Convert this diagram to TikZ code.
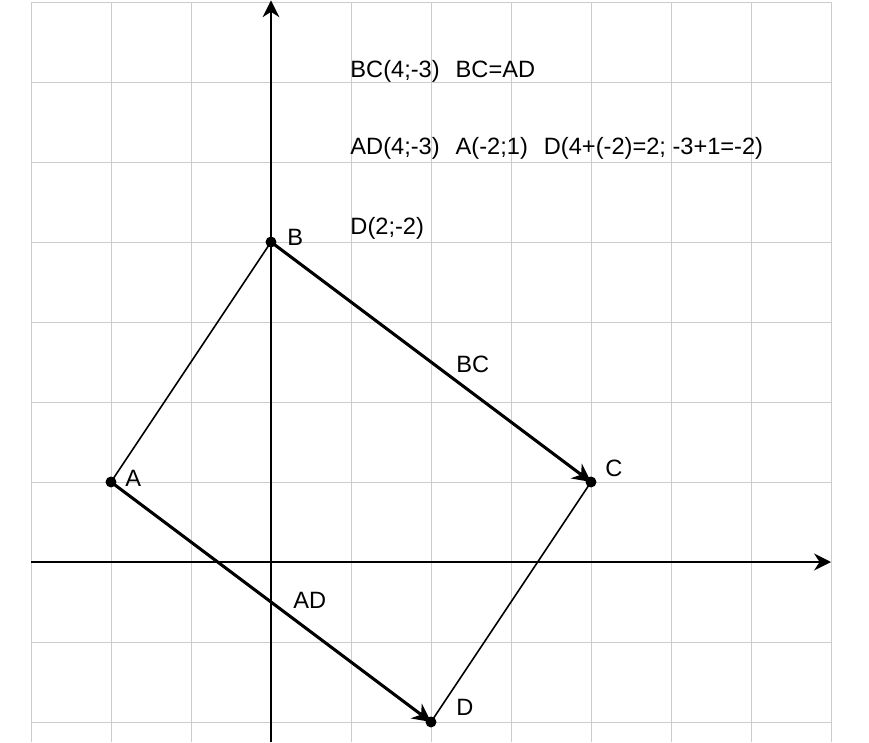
\documentclass[tikz,border=0pt]{standalone}
\usepackage{fontspec}
\setmainfont{Liberation Sans}
\usetikzlibrary{arrows.meta}
\newcommand{\gapsp}{\hspace{11.4pt}}
\tikzset{
  gridline/.style={draw=black!20, line width=0.7pt},
  axisline/.style={draw=black, line width=1.5pt, -{Stealth[length=12pt,width=12pt]}},
  vecline/.style={draw=black, line width=2.2pt, -{Stealth[length=13pt,width=13pt]}},
  sideline/.style={draw=black, line width=1.1pt},
  dotmark/.style={fill=black},
  lbl/.style={anchor=base west, inner sep=0pt, font=\fontsize{16.8pt}{19pt}\selectfont}
}
\begin{document}
\begin{tikzpicture}[x=2cm,y=2cm]
\useasboundingbox (-3.3875,-2.25) rectangle (7.475,7.025);
% grid
\foreach \i in {-3,...,7} \draw[gridline] (\i,-2.25) -- (\i,7);
\foreach \j in {-2,...,7} \draw[gridline] (-3,\j) -- (7,\j);
% axes
\coordinate (xs) at (-3,0);
\coordinate (xe) at (7,0);
\coordinate (ys) at (0,-2.25);
\coordinate (ye) at (0,7.02);
\draw[axisline] (xs) -- (xe);
\draw[axisline] (ys) -- (ye);
% points
\coordinate (A) at (-2,1);
\coordinate (B) at (0,4);
\coordinate (C) at (4,1);
\coordinate (D) at (2,-2);
\draw[sideline] (A) -- (B);
\draw[sideline] (D) -- (C);
\draw[vecline] (B) -- (C);
\draw[vecline] (A) -- (D);
\foreach \p in {A,B,C,D} \fill[dotmark] (\p) circle (3.9pt);
% labels
\node[lbl] (lA) at (-1.825,0.95) {A};
\node[lbl] (lB) at (0.2,3.95) {B};
\node[lbl] (lC) at (4.175,1.075) {C};
\node[lbl] (lD) at (2.3125,-1.9125) {D};
\node[lbl] (lBC) at (2.3125,2.375) {BC};
\node[lbl] (lAD) at (0.275,-0.575) {AD};
% text
\node[lbl] (t1) at (0.99,6.05) {BC(4;-3)\gapsp BC=AD};
\node[lbl] (t2) at (0.99,5.0875) {AD(4;-3)\gapsp A(-2;1)\gapsp D(4+(-2)=2; -3+1=-2)};
\node[lbl] (t3) at (0.99,4.0875) {D(2;-2)};
\end{tikzpicture}
\end{document}
